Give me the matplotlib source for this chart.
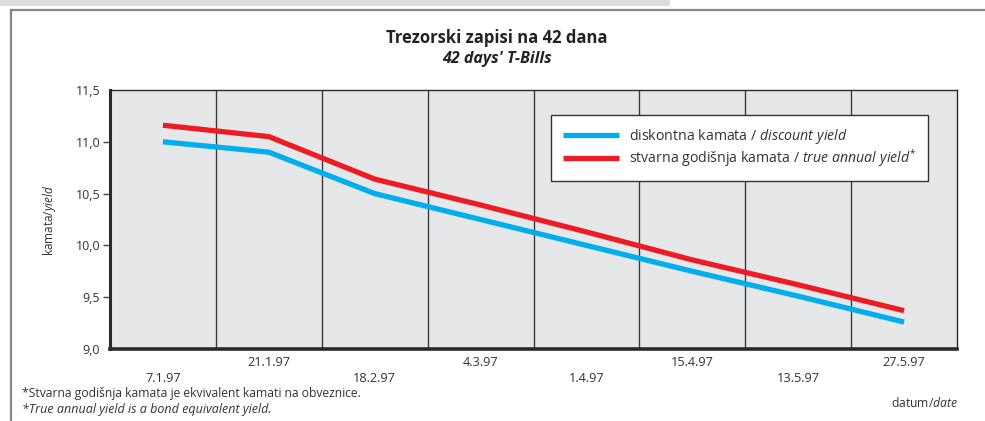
import matplotlib
matplotlib.use("Agg")
import matplotlib.pyplot as plt
import numpy as np
from matplotlib.patches import Rectangle
from matplotlib.lines import Line2D

# ---- data ----
dates = ['7.1.97', '21.1.97', '18.2.97', '4.3.97', '1.4.97', '15.4.97', '13.5.97', '27.5.97']
discount_yield = [11.00, 10.90, 10.50, 10.25, 10.00, 9.75, 9.51, 9.26]
true_annual_yield = [11.16, 11.05, 10.64, 10.39, 10.13, 9.86, 9.62, 9.37]
y_ticks = [9.0, 9.5, 10.0, 10.5, 11.0, 11.5]
y_tick_labels = ['9,0', '9,5', '10,0', '10,5', '11,0', '11,5']

FONT = 'Open Sans'
plt.rcParams['font.family'] = [FONT, 'DejaVu Sans']
plt.rcParams['mathtext.fontset'] = 'custom'
plt.rcParams['mathtext.rm'] = FONT
plt.rcParams['mathtext.it'] = FONT + ':italic'
plt.rcParams['mathtext.bf'] = FONT + ':bold'

TXT = '#333333'
W, H = 985, 421
fig = plt.figure(figsize=(W / 100, H / 100), dpi=100)
fig.patch.set_facecolor('white')

def fx(px):
    return px / W

def fy(py):
    return 1 - py / H

# page decorations: top band and frame
fig.patches.append(Rectangle((0, fy(6)), fx(670), 6 / H, transform=fig.transFigure,
                             facecolor='#dddddd', edgecolor='none', zorder=0))
fig.add_artist(Line2D([fx(11), 1], [fy(10), fy(10)], transform=fig.transFigure,
                      color='#888888', lw=1.6))
fig.add_artist(Line2D([fx(11), fx(11)], [fy(10), 0], transform=fig.transFigure,
                      color='#888888', lw=1.6))

ax = fig.add_axes([fx(110), fy(349), fx(957 - 110), (349 - 90) / H])
ax.set_facecolor('#e6e7e9')

x = np.arange(len(dates)) + 0.5
ax.set_xlim(0, len(dates))
ax.set_ylim(9.0, 11.5)

for xv in range(1, len(dates)):
    ax.axvline(xv, color='#3a3a3a', lw=1.0, zorder=1)

l1, = ax.plot(x, discount_yield, color='#00aeef', lw=3.8, solid_capstyle='butt',
              solid_joinstyle='miter', zorder=3)
l2, = ax.plot(x, true_annual_yield, color='#ed1c24', lw=3.8, solid_capstyle='butt',
              solid_joinstyle='miter', zorder=3)

# spines
ax.spines['left'].set_linewidth(2.2)
ax.spines['bottom'].set_linewidth(2.6)
ax.spines['top'].set_linewidth(1.0)
ax.spines['right'].set_linewidth(1.0)
for s in ax.spines.values():
    s.set_color('#2a2a2a')

# y axis
ax.set_yticks(y_ticks)
ax.set_yticklabels(y_tick_labels, fontsize=9, color=TXT)
ax.tick_params(axis='y', length=5, width=1.0, color='#444444', pad=2)
yt = ax.yaxis.get_major_ticks()
yt[0].tick1line.set_visible(False)
yt[-1].tick1line.set_visible(False)

# x axis staggered labels
ax.set_xticks(x)
ax.set_xticklabels(dates, fontsize=9.2, color=TXT)
ax.tick_params(axis='x', length=0, pad=5)
for i, lab in enumerate(ax.get_xticklabels()):
    if i % 2 == 0:
        lab.set_y(-16 / 259)

# legend
leg = ax.legend([l1, l2],
                [r'diskontna kamata / $\mathit{discount\ yield}$',
                 r'stvarna godišnja kamata / $\mathit{true\ annual\ yield}^{*}$'],
                loc='upper left', bbox_to_anchor=((551 - 110) / 847, 1 - (115 - 90) / 259),
                fontsize=10.2, frameon=True, fancybox=False, framealpha=1,
                edgecolor='#333333', handlelength=3.95, handletextpad=0.7,
                borderpad=0.85, labelspacing=0.08, borderaxespad=0)
leg.get_frame().set_linewidth(1.0)
for t in leg.get_texts():
    t.set_color(TXT)

# titles
fig.text(fx(497), fy(38), 'Trezorski zapisi na 42 dana', ha='center', va='center',
         fontsize=12, fontweight='bold', color='#222222')
fig.text(fx(497), fy(59), "42 days' T-Bills", ha='center', va='center',
         fontsize=11.5, fontweight='bold', fontstyle='italic', color='#222222')

# axis labels
fig.text(fx(50), fy(220), r'kamata/$\mathit{yield}$', rotation=90, ha='center', va='center',
         fontsize=8.5, color=TXT)
fig.text(fx(958), fy(403), r'datum/$\mathit{date}$', ha='right', va='center',
         fontsize=8.7, color=TXT)

# footnotes
fig.text(fx(22), fy(394), '*Stvarna godišnja kamata je ekvivalent kamati na obveznice.',
         ha='left', va='center', fontsize=8.7, color=TXT)
fig.text(fx(22), fy(410), '*True annual yield is a bond equivalent yield.',
         ha='left', va='center', fontsize=9.0, fontstyle='italic', color=TXT)

fig.savefig('out.png', dpi=100)
